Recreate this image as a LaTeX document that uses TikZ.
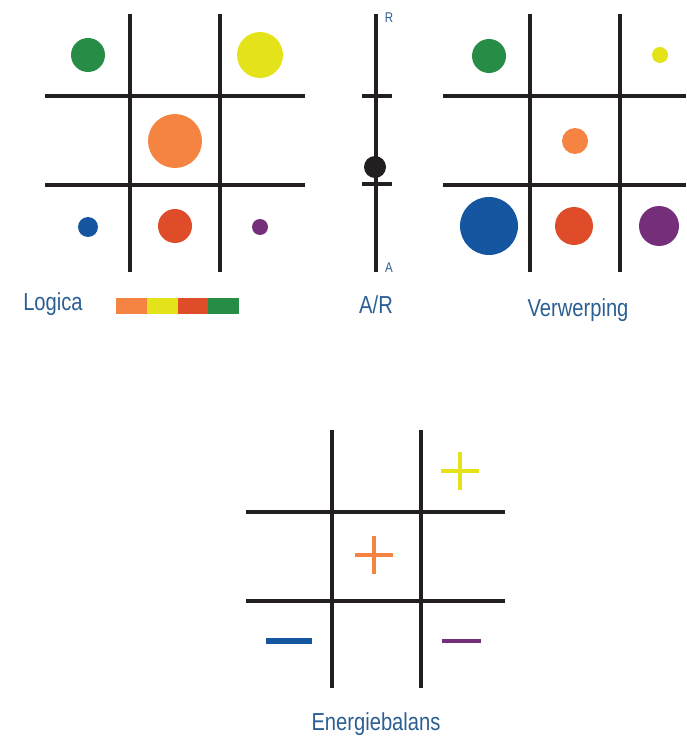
\documentclass[tikz,border=0pt]{standalone}
\usepackage{fontspec}
\setmainfont[FakeStretch=0.82]{Liberation Sans}

\definecolor{lineblack}{HTML}{231F20}
\definecolor{textblue}{HTML}{2B5F94}
\definecolor{dotorange}{HTML}{F58442}
\definecolor{dotyellow}{HTML}{E4E31A}
\definecolor{dotred}{HTML}{DE4C2A}
\definecolor{dotgreen}{HTML}{278C45}
\definecolor{dotblue}{HTML}{1457A0}
\definecolor{dotpurple}{HTML}{742E7A}

\begin{document}
\begin{tikzpicture}[x=0.02cm,y=-0.02cm,
  gridline/.style={line width=1.9pt, draw=lineblack},
  mark sign/.style={line width=2.8pt},
  label text/.style={text=textblue, font=\fontsize{14}{16}\selectfont},
  end text/.style={text=textblue, font=\fontsize{8}{9}\selectfont}]

\useasboundingbox (0,0) rectangle (686,740);

% -----------------------------
% Logica (top left)
% -----------------------------
\foreach \x in {130,220}
  \draw[gridline] (\x,14) -- (\x,272);
\foreach \y in {96,185}
  \draw[gridline] (45,\y) -- (305,\y);

\fill[dotgreen]  (88,55)   circle (17);
\fill[dotyellow] (260,55)  circle (23);
\fill[dotorange] (175,141) circle (27);
\fill[dotblue]   (88,227)  circle (10);
\fill[dotred]    (175,226) circle (17);
\fill[dotpurple] (260,227) circle (8);

\node[label text] (logica) at (53,304) {Logica};

% colour bar
\foreach \c [count=\i from 0] in {dotorange,dotyellow,dotred,dotgreen}
  \fill[\c] (116+30.75*\i,298) rectangle ++(30.75,16);

% -----------------------------
% A/R scale
% -----------------------------
\coordinate (top) at (376,14);
\coordinate (bottom) at (376,272);
\draw[gridline] (top) -- (bottom);
\foreach \y in {96,184}
  \draw[gridline] (362,\y) -- (392,\y);
\fill[lineblack] (375,167) circle (11);

\node[end text] (r) at (389,18) {R};
\node[end text] (a) at (389,268) {A};
\node[label text] (ar) at (376,305) {A/R};

% -----------------------------
% Verwerping (top right)
% -----------------------------
\foreach \x in {530,620}
  \draw[gridline] (\x,14) -- (\x,272);
\foreach \y in {96,185}
  \draw[gridline] (443,\y) -- (686,\y);

\fill[dotgreen]  (489,56)  circle (17);
\fill[dotyellow] (660,55)  circle (8);
\fill[dotorange] (575,141) circle (13);
\fill[dotblue]   (489,226) circle (29);
\fill[dotred]    (574,226) circle (19);
\fill[dotpurple] (659,226) circle (20);

\node[label text] (verwerping) at (578,310) {Verwerping};

% -----------------------------
% Energiebalans (bottom)
% -----------------------------
\foreach \x in {332,421}
  \draw[gridline] (\x,430) -- (\x,688);
\foreach \y in {512,601}
  \draw[gridline] (246,\y) -- (505,\y);

% plus and minus signs
\draw[mark sign, dotyellow] (441,471) -- (479,471) (460,452) -- (460,490);
\draw[mark sign, dotorange] (355,555) -- (393,555) (374,536) -- (374,574);
\draw[mark sign, dotblue, line width=3.2pt] (266,641) -- (312,641);
\draw[mark sign, dotpurple] (442,641) -- (481,641);

\node[label text] (energie) at (376,724) {Energiebalans};

\end{tikzpicture}
\end{document}
